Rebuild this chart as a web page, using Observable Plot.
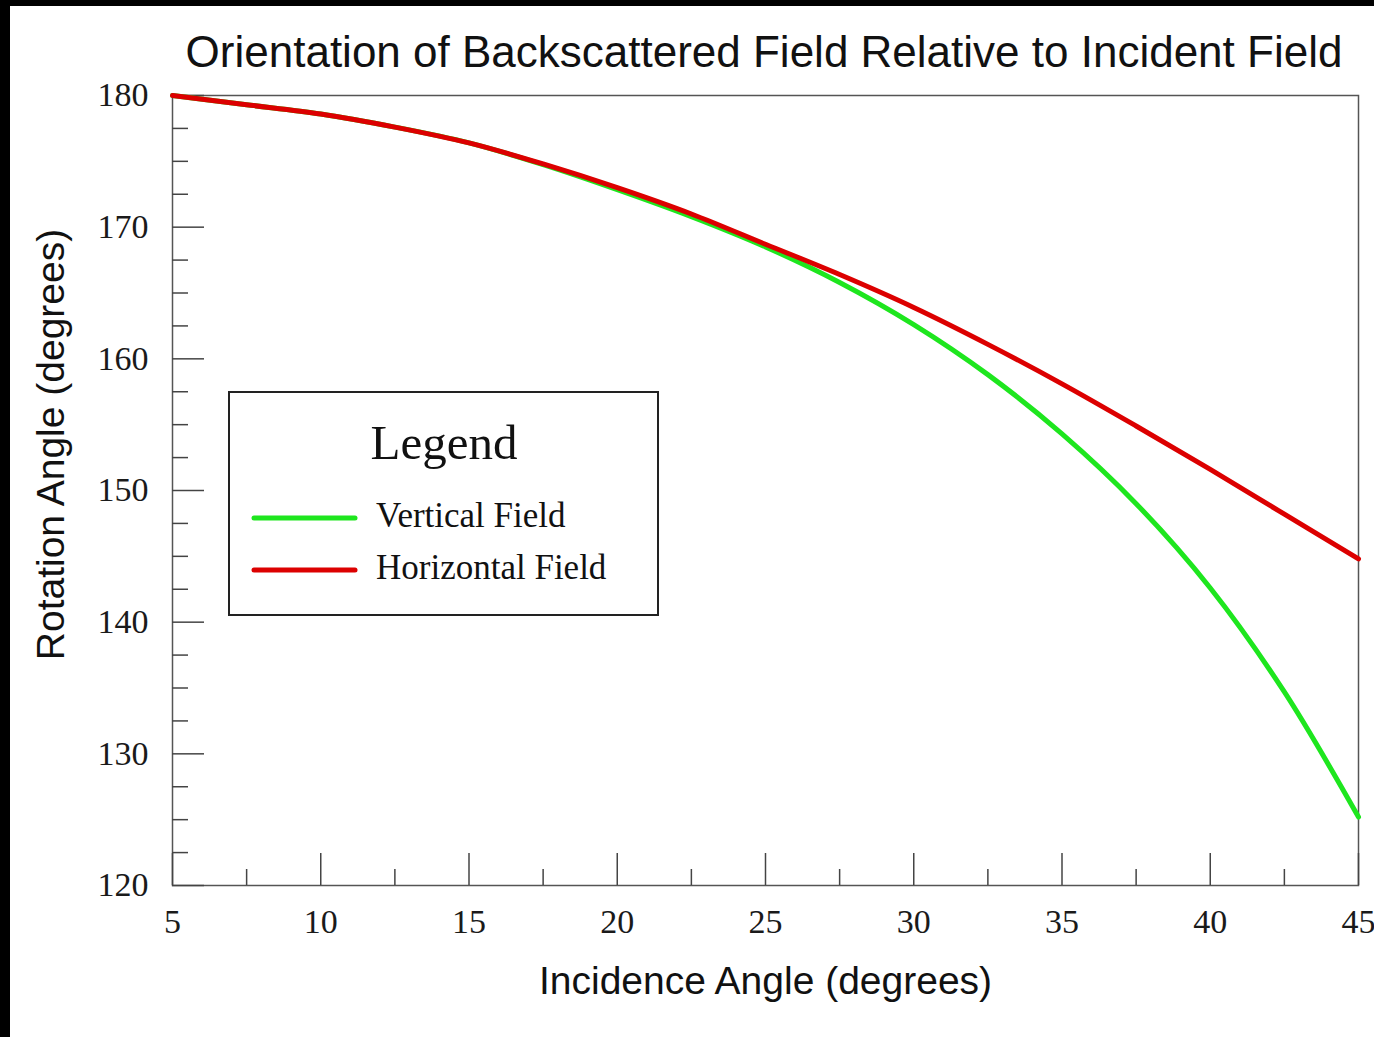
<!DOCTYPE html>
<html><head><meta charset="utf-8">
<script src="https://cdn.jsdelivr.net/npm/d3@7"></script>
<script src="https://cdn.jsdelivr.net/npm/@observablehq/plot@0.6"></script>
<style>
html,body{margin:0;padding:0;background:#000;width:1374px;height:1037px;overflow:hidden;}
#page{position:absolute;left:10px;top:6px;width:1364px;height:1031px;background:#fff;}
#page svg.plot{position:absolute;left:0;top:0;}
#legend{position:absolute;left:218px;top:385px;}
</style></head><body><div id="page"></div>
<script>
// ---- data ----
const title = "Orientation of Backscattered Field Relative to Incident Field";
const xLabel = "Incidence Angle (degrees)";
const yLabel = "Rotation Angle (degrees)";
const incidence = [5, 7.5, 10, 12.5, 15, 17.5, 20, 22.5, 25, 27.5, 30, 32.5, 35, 37.5, 40, 42.5, 45];
const verticalField = [180.0, 179.3, 178.6, 177.6, 176.4, 174.75, 172.85, 170.8, 168.5, 165.8, 162.6, 158.8, 154.3, 149.0, 142.6, 134.7, 125.2];
const horizontalField = [180.0, 179.3, 178.6, 177.6, 176.4, 174.8, 173.0, 171.0, 168.7, 166.4, 163.9, 161.1, 158.1, 154.9, 151.6, 148.2, 144.8];
const seriesNames = ["Vertical Field", "Horizontal Field"];
const seriesColors = ["#1ee61e", "#dc0000"];
const xMajor = [5, 10, 15, 20, 25, 30, 35, 40, 45];
const xMinor = [7.5, 12.5, 17.5, 22.5, 27.5, 32.5, 37.5, 42.5];
const yMajor = [120, 130, 140, 150, 160, 170, 180];
const yMinor = [122.5, 125, 127.5, 132.5, 135, 137.5, 142.5, 145, 147.5, 152.5, 155, 157.5, 162.5, 165, 167.5, 172.5, 175, 177.5];

// ---- layout ----
const W = 1364, H = 1031, mL = 162, mR = 16, mT = 89, mB = 152;
const innerW = W - mL - mR, innerH = H - mT - mB;
const serif = "'Liberation Serif', 'Times New Roman', serif";
const sans = "'Liberation Sans', Arial, sans-serif";

const vData = incidence.map((x, i) => ({x, y: verticalField[i]}));
const hData = incidence.map((x, i) => ({x, y: horizontalField[i]}));

const chart = Plot.plot({
  width: W, height: H,
  marginLeft: mL, marginRight: mR, marginTop: mT, marginBottom: mB,
  style: {background: "transparent", overflow: "visible", color: "#1a1a1a"},
  x: {domain: [5, 45]},
  y: {domain: [120, 180]},
  marks: [
    Plot.frame({stroke: "#555", strokeWidth: 1.5}),
    Plot.tickY(yMinor, {y: d => d, stroke: "#444", strokeWidth: 1.5, insetRight: innerW - 16}),
    Plot.tickY(yMajor, {y: d => d, stroke: "#444", strokeWidth: 1.5, insetRight: innerW - 32}),
    Plot.tickX(xMinor, {x: d => d, stroke: "#444", strokeWidth: 1.5, insetTop: innerH - 16}),
    Plot.tickX(xMajor, {x: d => d, stroke: "#444", strokeWidth: 1.5, insetTop: innerH - 32}),
    Plot.axisY(yMajor, {tickSize: 0, tickPadding: 24, fontSize: 34, fontFamily: serif, label: null, tickFormat: d => String(d)}),
    Plot.axisX(xMajor, {tickSize: 0, tickPadding: 23, fontSize: 34, fontFamily: serif, label: null, tickFormat: d => String(d)}),
    Plot.line(vData, {x: "x", y: "y", stroke: seriesColors[0], strokeWidth: 5, curve: "catmull-rom"}),
    Plot.line(hData, {x: "x", y: "y", stroke: seriesColors[1], strokeWidth: 5, curve: "catmull-rom"}),
    Plot.text([title], {text: d => d, frameAnchor: "top", textAnchor: "middle", dx: -1.5, dy: -29, lineAnchor: "bottom", fontSize: 44, fontFamily: sans, fill: "#111"}),
    Plot.text([xLabel], {text: d => d, frameAnchor: "bottom", textAnchor: "middle", dy: 108, lineAnchor: "bottom", fontSize: 39, fontFamily: sans, fill: "#111"}),
    Plot.text([yLabel], {text: d => d, frameAnchor: "left", textAnchor: "middle", rotate: -90, dx: -108.5, dy: -46, lineAnchor: "bottom", fontSize: 39, fontFamily: sans, fill: "#111"})
  ]
});
document.getElementById("page").appendChild(chart);

// ---- legend ----
const lg = d3.select("#page").append("svg").attr("id", "legend").attr("width", 431).attr("height", 225);
lg.append("rect").attr("x", 1).attr("y", 1).attr("width", 429).attr("height", 223)
  .attr("fill", "#fff").attr("stroke", "#222").attr("stroke-width", 2);
lg.append("text").attr("x", 216).attr("y", 68).attr("text-anchor", "middle")
  .attr("font-family", serif).attr("font-size", 49).attr("fill", "#111").text("Legend");
const rowY = [127, 179];
seriesNames.forEach((name, i) => {
  lg.append("line").attr("x1", 26).attr("x2", 127).attr("y1", rowY[i]).attr("y2", rowY[i])
    .attr("stroke", seriesColors[i]).attr("stroke-width", 5).attr("stroke-linecap", "round");
  lg.append("text").attr("x", 148).attr("y", rowY[i] + 9)
    .attr("font-family", serif).attr("font-size", 35).attr("fill", "#111").text(name);
});
</script></body></html>
